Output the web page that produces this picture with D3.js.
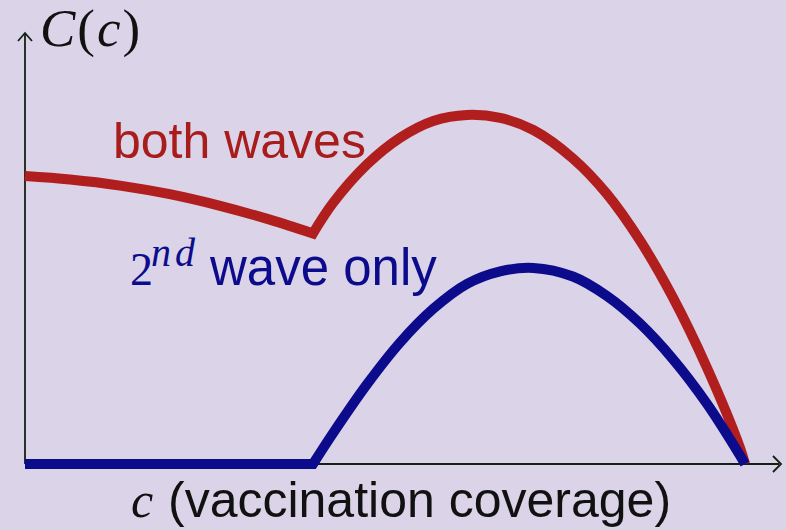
<!DOCTYPE html>
<html>
<head>
<meta charset="utf-8">
<script src="https://cdn.jsdelivr.net/npm/d3@7"></script>
<style>
  html, body { margin: 0; padding: 0; background: #dbd3e8; }
  svg { display: block; }
</style>
</head>
<body>
<svg id="chart" width="786" height="530"></svg>
<script>
// Vaccination coverage c (fraction of the threshold)
const coverage = [0, 0.0625, 0.132, 0.201, 0.271, 0.340, 0.4,
                  0.428, 0.475, 0.521, 0.567, 0.614, 0.660, 0.706,
                  0.761, 0.808, 0.854, 0.9, 0.947, 0.993, 1.0];
// Cost C(c) counting both epidemic waves
const bothWaves = [0.668, 0.660, 0.646, 0.626, 0.599, 0.567, 0.535,
                   0.606, 0.695, 0.757, 0.796, 0.810, 0.803, 0.775,
                   0.709, 0.627, 0.519, 0.386, 0.224, 0.038, 0];
// Cost C(c) counting the second wave only
const secondWave = [0, 0, 0, 0, 0, 0, 0,
                    0.072, 0.185, 0.282, 0.360, 0.418, 0.447, 0.455,
                    0.435, 0.390, 0.326, 0.243, 0.140, 0.020, 0];
// Coverage at which the first wave is just prevented (kink of the curves)
const kinkIndex = 6;

const svg = d3.select("#chart");

const x = d3.scaleLinear().domain([0, 1]).range([25, 745]);
const y = d3.scaleLinear().domain([0, 1]).range([464, 33]);

const axisColor = "#142014";
const red = "#b01e1e";
const blue = "#0b0b8c";

// Axes with open arrow heads
svg.append("line")
  .attr("x1", x(0)).attr("y1", y(0))
  .attr("x2", 779).attr("y2", y(0))
  .attr("stroke", axisColor).attr("stroke-width", 1.8);
svg.append("path")
  .attr("d", `M773,${y(0) - 8} L781,${y(0)} L773,${y(0) + 8}`)
  .attr("fill", "none").attr("stroke", axisColor).attr("stroke-width", 1.8);
svg.append("line")
  .attr("x1", x(0)).attr("y1", y(0))
  .attr("x2", x(0)).attr("y2", 34)
  .attr("stroke", axisColor).attr("stroke-width", 1.8);
svg.append("path")
  .attr("d", `M${x(0) - 7},41 L${x(0)},33 L${x(0) + 7},41`)
  .attr("fill", "none").attr("stroke", axisColor).attr("stroke-width", 1.8);

const points = vals => coverage.map((c, i) => [c, vals[i]]);
const line = d3.line()
  .x(d => x(d[0])).y(d => y(d[1]))
  .curve(d3.curveCatmullRom.alpha(0.5));

// Each curve is smooth on both sides of the kink and joined there with a corner
function drawSeries(vals, color) {
  const pts = points(vals);
  const segs = [pts.slice(0, kinkIndex + 1), pts.slice(kinkIndex)];
  const d = segs.map(s => line(s)).reduce((a, b) => a + b.replace(/^M[^CL]*/, ""));
  svg.append("path")
    .attr("d", d)
    .attr("fill", "none")
    .attr("stroke", color)
    .attr("stroke-width", 10)
    .attr("stroke-linejoin", "miter")
    .attr("stroke-linecap", "butt");
}

drawSeries(bothWaves, red);
drawSeries(secondWave, blue);

// Labels
const sans = "'Liberation Sans', Arial, sans-serif";
const serif = "'Liberation Serif', 'Times New Roman', serif";

const yLabel = svg.append("text")
  .attr("x", 40).attr("y", 46)
  .attr("font-family", serif).attr("font-size", 53).attr("fill", "#111")
  .attr("letter-spacing", 2);
yLabel.append("tspan").attr("font-style", "italic").text("C");
yLabel.append("tspan").text("(");
yLabel.append("tspan").attr("font-style", "italic").text("c");
yLabel.append("tspan").text(")");

svg.append("text")
  .attr("x", 113).attr("y", 158)
  .attr("font-family", sans).attr("font-size", 50).attr("fill", "#a81c1c")
  .text("both waves");

const blueLabel = svg.append("text")
  .attr("x", 130).attr("y", 285)
  .attr("font-family", serif).attr("font-size", 46).attr("fill", blue);
blueLabel.append("tspan").text("2");
blueLabel.append("tspan").attr("x", 151).attr("font-style", "italic").attr("font-size", 40)
  .attr("letter-spacing", 4).attr("dy", -19).text("nd");
blueLabel.append("tspan").attr("x", 210).attr("font-family", sans).attr("font-size", 51)
  .attr("letter-spacing", 0).attr("dy", 19).text("wave only");

const xLabel = svg.append("text")
  .attr("x", 131).attr("y", 517)
  .attr("font-family", serif).attr("font-size", 50).attr("fill", "#111");
xLabel.append("tspan").attr("font-style", "italic").text("c");
xLabel.append("tspan").attr("font-family", sans).attr("x", 168)
  .text("(vaccination coverage)");
</script>
</body>
</html>
